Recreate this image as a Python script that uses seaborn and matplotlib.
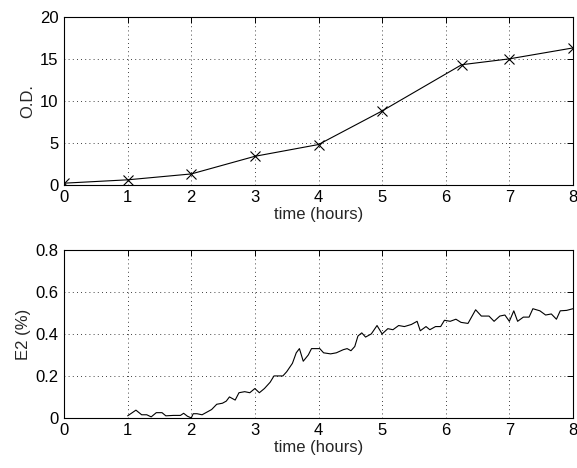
import numpy as np
import pandas as pd
import matplotlib
matplotlib.use('Agg')
import matplotlib.pyplot as plt
import seaborn as sns

# optical density samples
od_time = [0, 1, 2, 3, 4, 5, 6.25, 7, 8]
od_value = [0.2, 0.6, 1.3, 3.4, 4.8, 8.8, 14.3, 15.0, 16.3]

# E2 trace
e2_time = [1.0, 1.13, 1.22, 1.3, 1.37, 1.45, 1.54, 1.6, 1.72, 1.83, 1.88, 1.94, 2.0,
           2.03, 2.09, 2.17, 2.26, 2.32, 2.4, 2.49, 2.55, 2.6, 2.69, 2.75, 2.84, 2.92, 3.0,
           3.07, 3.15, 3.24, 3.3, 3.44, 3.5, 3.59, 3.65, 3.7, 3.76, 3.84, 3.89, 4.02,
           4.08, 4.19, 4.28, 4.39, 4.45, 4.51, 4.57, 4.62, 4.68, 4.74, 4.83, 4.92, 5.0,
           5.09, 5.17, 5.26, 5.35, 5.46, 5.55, 5.6, 5.69, 5.75, 5.84, 5.92, 5.98, 6.07,
           6.16, 6.24, 6.35, 6.47, 6.56, 6.68, 6.76, 6.85, 6.93, 7.0, 7.07, 7.13, 7.22,
           7.31, 7.37, 7.48, 7.57, 7.66, 7.74, 7.8, 7.9, 8.0]
e2_value = [0.01, 0.037, 0.015, 0.015, 0.005, 0.025, 0.025, 0.01, 0.012, 0.012, 0.022, 0.008, 0.0,
            0.02, 0.02, 0.015, 0.03, 0.04, 0.065, 0.07, 0.08, 0.1, 0.085, 0.12, 0.125, 0.12, 0.14,
            0.12, 0.14, 0.17, 0.2, 0.2, 0.22, 0.26, 0.31, 0.33, 0.27, 0.30, 0.33, 0.33,
            0.31, 0.305, 0.31, 0.325, 0.33, 0.32, 0.34, 0.39, 0.405, 0.385, 0.40, 0.44, 0.40,
            0.425, 0.42, 0.44, 0.435, 0.445, 0.46, 0.415, 0.435, 0.42, 0.435, 0.435, 0.465, 0.46,
            0.47, 0.455, 0.45, 0.515, 0.485, 0.485, 0.46, 0.485, 0.49, 0.46, 0.51, 0.46, 0.48,
            0.48, 0.52, 0.51, 0.49, 0.495, 0.47, 0.51, 0.512, 0.52]

df_od = pd.DataFrame({'time': od_time, 'od': od_value})
df_e2 = pd.DataFrame({'time': e2_time, 'e2': e2_value})

sns.set_style('white')
plt.rcParams['font.family'] = ['Liberation Sans', 'DejaVu Sans']
plt.rcParams['font.size'] = 12

fig = plt.figure(figsize=(5.77, 4.68), dpi=100)
ax1 = fig.add_axes([0.111, 0.605, 0.882, 0.359])
ax2 = fig.add_axes([0.111, 0.107, 0.882, 0.359])

sns.lineplot(data=df_od, x='time', y='od', ax=ax1, color='black', lw=0.8,
             marker='x', markersize=7, markeredgewidth=0.8, mec='black')
sns.lineplot(data=df_e2, x='time', y='e2', ax=ax2, color='black', lw=0.8)

def matlab_style(ax, yticks, ylabel):
    ax.set_xlim(0, 8)
    ax.set_xticks(range(0, 9))
    ax.set_ylim(yticks[0], yticks[-1])
    ax.set_yticks(yticks)
    ax.grid(True, color='black', linestyle=(0, (1, 4)), linewidth=0.6)
    ax.tick_params(direction='in', top=True, right=True, length=4, width=0.7,
                   labelsize=12, pad=4, colors='black')
    for s in ax.spines.values():
        s.set_color('black')
        s.set_linewidth(0.8)
    ax.set_xlabel('time (hours)', fontsize=12, labelpad=1)
    ax.set_ylabel(ylabel, fontsize=12, labelpad=3)

matlab_style(ax1, [0, 5, 10, 15, 20], 'O.D.')
matlab_style(ax2, [0, 0.2, 0.4, 0.6, 0.8], 'E2 (%)')
ax2.set_yticklabels(['0', '0.2', '0.4', '0.6', '0.8'])

plt.savefig('out.png', dpi=100)
